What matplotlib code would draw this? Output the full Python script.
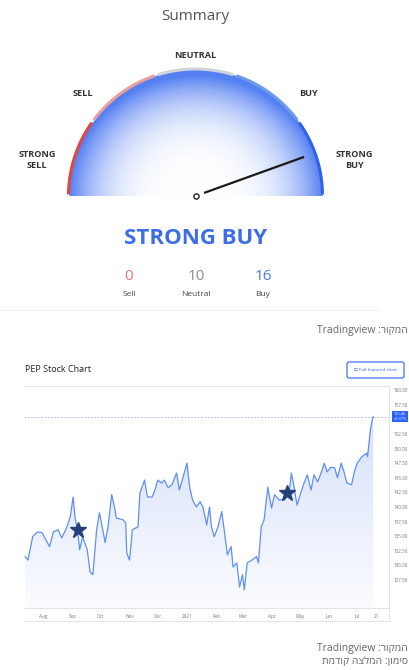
import re
import numpy as np
import pandas as pd
import matplotlib
matplotlib.use("Agg")
import matplotlib.pyplot as plt
import matplotlib.colors as mcolors
from matplotlib.patches import FancyBboxPatch

plt.rcParams['font.family'] = ['Open Sans', 'DejaVu Sans']

# summary gauge
gauge_labels = ["STRONG\nSELL", "SELL", "NEUTRAL", "BUY", "STRONG\nBUY"]
gauge_colors = ["#e2463f", "#ee9d9d", "#cfd3da", "#6d9be9", "#2f62e6"]
needle_value = 0.78          # -1 strong sell .. +1 strong buy
summary_text = "STRONG BUY"
count_names = ["Sell", "Neutral", "Buy"]
count_values = [0, 10, 16]
count_colors = ["#e57373", "#8c8c8c", "#4a7be2"]

# PEP close, days counted from 2020-08-01
days = [-19, -16, -11, -6, -1, 2, 7, 11, 16, 20, 25, 29, 32, 34, 37, 39, 42, 47, 50, 53,
        57, 60, 64, 66, 69, 73, 76, 78, 85, 88, 89, 92, 95, 101, 103, 108, 111, 116, 119, 122,
        126, 129, 133, 137, 142, 145, 151, 153, 156, 159, 163, 167, 170, 174, 177, 179, 182, 186, 190, 193,
        196, 200, 202, 206, 209, 212, 214, 217, 222, 227, 229, 232, 235, 239, 243, 246, 251, 257, 262, 264,
        267, 270, 275, 278, 281, 285, 288, 292, 296, 299, 302, 306, 310, 313, 317, 320, 323, 328, 331, 334,
        339, 344, 345, 348, 350, 351]
price = [131.5, 130.9, 134.9, 135.7, 135.6, 134.7, 133.2, 135.7, 136.1, 134.7, 136.4, 138.3, 141.7, 138.3, 135.6, 132.7, 134.9, 132.7, 128.9, 128.4,
         136.1, 139.0, 135.7, 133.9, 136.4, 142.1, 140.0, 138.1, 137.8, 137.3, 132.1, 130.9, 136.1, 136.6, 142.4, 144.6, 141.7, 141.7, 142.9, 144.6,
         144.1, 144.6, 143.3, 143.8, 145.8, 142.9, 146.3, 147.5, 143.3, 141.2, 140.0, 140.9, 140.0, 136.9, 140.0, 136.6, 134.9, 136.6, 139.2, 135.6,
         131.8, 133.2, 129.7, 130.4, 126.3, 128.4, 125.8, 130.4, 130.9, 131.5, 130.4, 136.6, 137.8, 143.4, 139.8, 142.1, 141.2, 141.2, 142.9, 145.8,
         143.4, 140.3, 142.9, 144.3, 145.5, 142.9, 145.5, 144.3, 146.0, 147.5, 146.0, 146.8, 146.7, 145.0, 147.5, 146.0, 144.1, 143.8, 146.0, 147.5,
         148.6, 149.2, 148.6, 153.2, 154.9, 155.46]
star_days = [37, 259]
star_price = [136.1, 142.4]
last_price = 155.46
# 155.00 sits under the last-price badge, so it is not listed
price_ticks = [127.5, 130, 132.5, 135, 137.5, 140, 142.5, 145, 147.5, 150, 152.5, 157.5, 160]
tick_dates = ["2020-08-01", "2020-09-01", "2020-10-01", "2020-11-01", "2020-12-01", "2021-01-01", "2021-02-01",
              "2021-03-01", "2021-04-01", "2021-05-01", "2021-06-01", "2021-07-01", "2021-07-21"]
tick_names = ["Aug", "Sep", "Oct", "Nov", "Dec", "2021", "Feb", "Mar", "Apr", "May", "Jun", "Jul", "21"]

caption_src = "המקור: Tradingview"
caption_mark = "סימון: המלצה קודמת"


def rtl(s):
    # matplotlib has no bidi: flip the line, then flip latin runs back
    r = s[::-1]
    return re.sub(r"[A-Za-z0-9.]+", lambda m: m.group(0)[::-1], r)


fig = plt.figure(figsize=(4.09, 6.70), dpi=100)
ax = fig.add_axes([0, 0, 1, 1])
ax.set_xlim(0, 409)
ax.set_ylim(670, 0)
ax.axis("off")

# ---------- gauge
cx, cy, R = 195.5, 196, 127
ax.text(cx, 17, "Summary", ha="center", va="center", fontsize=11, color="#555555")

xs = np.linspace(cx - R, cx + R, 400)
ys = np.linspace(cy - R, cy, 200)
X, Y = np.meshgrid(xs, ys)
rr = np.hypot(X - cx, (Y - cy) * 1.05) / R
f = np.clip(rr, 0, 1) ** 3.4
edge = np.array(mcolors.to_rgb("#5580f2"))
rgb = 1 - f[..., None] * (1 - edge)
img = np.dstack([rgb, (np.hypot(X - cx, Y - cy) <= R).astype(float)])
ax.imshow(img, extent=(cx - R, cx + R, cy, cy - R), origin="upper", interpolation="bilinear", zorder=1)

for i, col in enumerate(gauge_colors):
    a0 = np.radians(180 - 36 * i - 0.7)
    a1 = np.radians(180 - 36 * (i + 1) + 0.7)
    th = np.linspace(a0, a1, 60)
    ax.plot(cx + R * np.cos(th), cy - R * np.sin(th), color=col, lw=2.2, solid_capstyle="butt", zorder=3)

label_pos = [(37, 160), (83, 93), (195.5, 56), (308, 93), (354, 160)]
for lab, (lx, ly) in zip(gauge_labels, label_pos):
    ax.text(lx, ly, lab, ha="center", va="center", fontsize=6.6, color="#333333",
            fontweight="bold", linespacing=1.3)

ang = np.radians(90 - needle_value * 90)
ax.plot([cx + 0.08 * R * np.cos(ang), cx + 0.9 * R * np.cos(ang)],
        [cy - 0.08 * R * np.sin(ang), cy - 0.9 * R * np.sin(ang)], color="#1a1a1a", lw=1.6, zorder=4)
ax.scatter([cx], [cy], s=14, facecolor="white", edgecolor="#222222", lw=1, zorder=5)

ax.text(cx, 239, summary_text, ha="center", va="center", fontsize=16, fontweight="bold", color="#3b6ee8")
for k, (nm, v, c) in enumerate(zip(count_names, count_values, count_colors)):
    x = 129 + 67 * k
    ax.text(x, 276, str(v), ha="center", va="center", fontsize=11, color=c)
    ax.text(x, 295, nm, ha="center", va="center", fontsize=6, color="#444444")
ax.plot([0, 378], [310, 310], color="#eeeeee", lw=0.8)

ax.text(408, 330, rtl(caption_src), ha="right", va="center", fontsize=7.5, color="#666666")

# ---------- stock chart header
ax.text(25, 370, "PEP Stock Chart", ha="left", va="center", fontsize=6.5, color="#222222")
ax.add_patch(FancyBboxPatch((347, 362), 57, 16, boxstyle="round,pad=0,rounding_size=2",
                            fc="white", ec="#2962ff", lw=0.8))
ax.text(375.5, 370, "☑ Full-featured chart", ha="center", va="center", fontsize=3.2, color="#2962ff")
ax.text(26, 392, "155.46 +0.57 (+0.37%)", ha="left", va="center", fontsize=3, color="#5b8af0")
ax.plot([24, 390], [621, 621], color="#e0e3eb", lw=0.7)
ax.plot([389, 389], [608, 621], color="#e0e3eb", lw=0.7)
ax.scatter([31], [597], s=40, facecolor="white", edgecolor="#e6e9f0", lw=0.6, zorder=5)
ax.scatter([31], [597], s=7, marker="^", color="#2962ff", zorder=6)

ax.text(408, 648, rtl(caption_src), ha="right", va="center", fontsize=7.5, color="#666666")
ax.text(408, 661, rtl(caption_mark), ha="right", va="center", fontsize=7.5, color="#666666")

# ---------- price chart
ax2 = fig.add_axes([24 / 409, (670 - 608) / 670, (389 - 24) / 409, (608 - 386) / 670])
y0, y1 = 122.7, 160.7
fb = ax2.fill_between(days, price, y0, color="none", lw=0)
grad = np.linspace(1, 0, 256)[:, None, None]
top_c = np.array(mcolors.to_rgb("#d0dcf9"))
bot_c = np.array(mcolors.to_rgb("#fbfcff"))
im = ax2.imshow(bot_c + grad * (top_c - bot_c), extent=(days[0], days[-1], y0, y1),
                origin="upper", aspect="auto", zorder=1)
im.set_clip_path(fb.get_paths()[0], ax2.transData)
ax2.plot(days, price, color="#5f8ff0", lw=0.9, zorder=3)
ax2.axhline(last_price, color="#9db5f0", lw=0.6, ls=(0, (2, 2)), zorder=2)
ax2.plot(star_days, star_price, ls="none", marker="*", ms=12, color="#253f78", zorder=4)

ax2.set_xlim(-20.2, 367.8)
ax2.set_ylim(y0, y1)
start = pd.Timestamp("2020-08-01")
ax2.set_xticks([(pd.Timestamp(d) - start).days for d in tick_dates])
ax2.set_xticklabels(tick_names)
ax2.yaxis.tick_right()
ax2.set_yticks(price_ticks)
ax2.set_yticklabels([f"{v:.2f}" for v in price_ticks])
ax2.tick_params(axis="both", length=0, labelsize=3.3, labelcolor="#777777")
ax2.tick_params(axis="x", pad=4)
ax2.tick_params(axis="y", pad=3)
for s in ["top", "right", "bottom"]:
    ax2.spines[s].set_color("#e0e3eb")
    ax2.spines[s].set_linewidth(0.7)
ax2.spines["left"].set_visible(False)
ax2.text(1.012, last_price, "155.46\n+0.37%", transform=ax2.get_yaxis_transform(), ha="left", va="center",
         fontsize=2.8, color="white", linespacing=1.1, clip_on=False, zorder=6,
         bbox=dict(boxstyle="square,pad=0.35", fc="#2962ff", ec="none"))

fig.savefig("out.png", dpi=100)
